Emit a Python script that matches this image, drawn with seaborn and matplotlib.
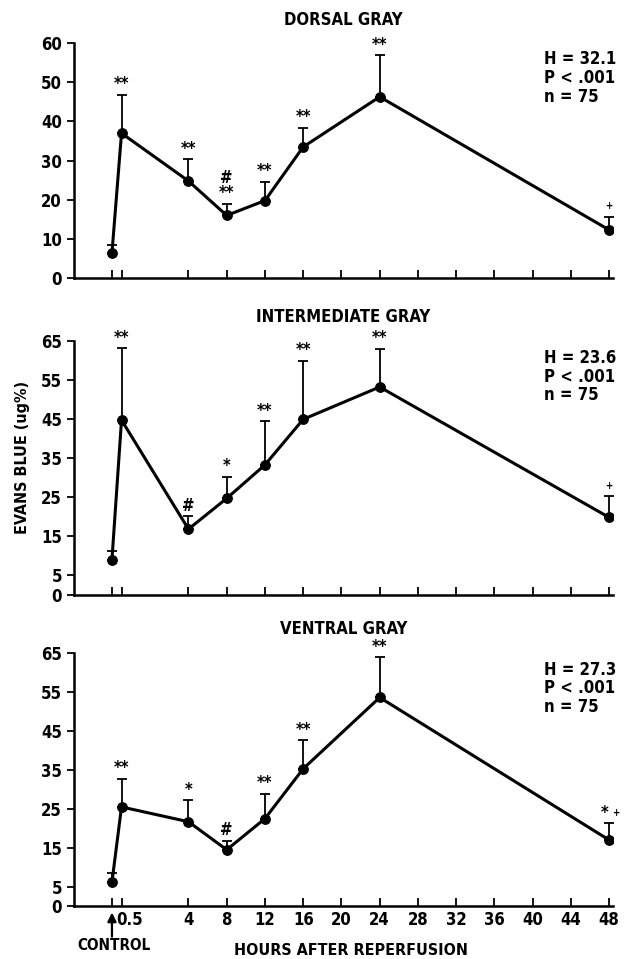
import numpy as np
import pandas as pd
import matplotlib
matplotlib.use('Agg')
import matplotlib.pyplot as plt
import matplotlib.transforms as mtransforms
import seaborn as sns

# time points (CONTROL and 0.5 h sit on a compressed stretch of the axis)
time_labels = ["CONTROL", "0.5", "4", "8", "12", "16", "24", "48"]
time_pos = [-4, -3, 4, 8, 12, 16, 24, 48]

# Evans blue (ug%) means and upper SE
dorsal_mean = [6.4, 37.0, 24.8, 16.0, 19.8, 33.5, 46.3, 12.3]
dorsal_err = [2.0, 9.8, 5.6, 3.0, 4.8, 4.9, 10.6, 3.3]
inter_mean = [9.0, 44.8, 16.8, 24.7, 33.3, 45.0, 53.3, 19.8]
inter_err = [2.3, 18.4, 3.3, 5.6, 11.2, 15.0, 9.8, 5.4]
ventral_mean = [6.2, 25.5, 21.7, 14.5, 22.5, 35.3, 53.6, 17.0]
ventral_err = [2.3, 7.2, 5.6, 2.3, 6.4, 7.4, 10.4, 4.3]

# significance marks above the bars
dorsal_sig = ["", "**", "**", "#\n**", "**", "**", "**", ""]
inter_sig = ["", "**", "#", "*", "**", "**", "**", ""]
ventral_sig = ["", "**", "*", "#", "**", "**", "**", "*"]
plus_flag = [0, 0, 0, 0, 0, 0, 0, 1]

panels = [
    ("DORSAL GRAY", dorsal_mean, dorsal_err, dorsal_sig, "H = 32.1\nP < .001\nn = 75",
     [0, 10, 20, 30, 40, 50, 60], 60),
    ("INTERMEDIATE GRAY", inter_mean, inter_err, inter_sig, "H = 23.6\nP < .001\nn = 75",
     [0, 5, 15, 25, 35, 45, 55, 65], 65),
    ("VENTRAL GRAY", ventral_mean, ventral_err, ventral_sig, "H = 27.3\nP < .001\nn = 75",
     [0, 5, 15, 25, 35, 45, 55, 65], 65),
]

sns.set_style("ticks")
plt.rcParams['font.family'] = ['DejaVu Sans']
plt.rcParams['font.stretch'] = 'condensed'
plt.rcParams['font.weight'] = 'bold'
for k in ['text.color', 'axes.labelcolor', 'xtick.color', 'ytick.color', 'axes.edgecolor']:
    plt.rcParams[k] = 'black'

fig = plt.figure(figsize=(6.3, 9.59), dpi=100)
rects = [
    [0.117, 0.710, 0.856, 0.245],
    [0.117, 0.380, 0.856, 0.264],
    [0.117, 0.055, 0.856, 0.264],
]

xticks = sorted(time_pos + [20, 28, 32, 36, 40, 44])

for i, (title, mean, err, sig, stats, yticks, ytop) in enumerate(panels):
    ax = fig.add_axes(rects[i])
    df = pd.DataFrame({"pos": time_pos, "val": mean})
    ax.errorbar(time_pos, mean, yerr=[np.zeros(len(err)), err], fmt='none',
                ecolor='black', elinewidth=1.3, capsize=3.5, capthick=1.3, zorder=2)
    sns.lineplot(data=df, x="pos", y="val", ax=ax, color='black', linewidth=2.2,
                 marker='o', markersize=7, markeredgecolor='black', zorder=3)
    ax.set_xlim(-8, 48.4)
    ax.set_ylim(0, ytop)
    ax.set_yticks(yticks)
    ax.set_xticks(xticks)
    ax.set_xlabel("")
    ax.set_ylabel("")
    ax.tick_params(axis='x', direction='in', length=6, width=1.3)
    ax.tick_params(axis='y', direction='out', length=5, width=1.3, labelsize=12)
    for s in ['left', 'bottom']:
        ax.spines[s].set_linewidth(1.8)
    sns.despine(ax=ax)

    if i == 2:
        labels = []
        for t in xticks:
            if t == -4:
                labels.append("")
            elif t == -3:
                labels.append("0.5")
            else:
                labels.append(str(t))
        ax.set_xticklabels(labels, fontsize=12)
        # nudge the 0.5 label right to leave room for the control arrow
        lbl = ax.get_xticklabels()[1]
        lbl.set_transform(lbl.get_transform() +
                          mtransforms.ScaledTranslation(6 / 72, 0, fig.dpi_scale_trans))
    else:
        ax.set_xticklabels([])

    for x, y, e, s, p in zip(time_pos, mean, err, sig, plus_flag):
        if s:
            ax.annotate(s, (x, y + e), xytext=(-3 if p else 0, 1), textcoords='offset points',
                        ha='center', va='bottom', fontsize=12, fontweight='bold',
                        linespacing=0.8, annotation_clip=False)
        if p:
            ax.annotate("+", (x, y + e), xytext=(5 if s else 0, 4), textcoords='offset points',
                        ha='center', va='bottom', fontsize=7, fontweight='bold',
                        annotation_clip=False)

    ax.text(0.5, 1.06, title, transform=ax.transAxes, ha='center', va='bottom',
            fontsize=12, fontweight='bold')
    ax.text(0.872, 0.97, stats, transform=ax.transAxes, ha='left', va='top',
            fontsize=12, fontweight='bold', linespacing=1.05)

# control arrow and axis titles
axb = fig.axes[2]
arr = axb.annotate("", xy=(-4, -1.6), xytext=(-4, -7.8), xycoords='data',
                   arrowprops=dict(arrowstyle='-|>', color='black', lw=1.6, mutation_scale=13,
                                   shrinkA=0, shrinkB=0),
                   annotation_clip=False)
arr.set_clip_on(False)
arr.arrow_patch.set_clip_on(False)
axb.text(-3.8, -8.2, "CONTROL", ha='center', va='top', fontsize=11, fontweight='bold')
fig.text(0.557, 0.009, "HOURS AFTER REPERFUSION", ha='center', va='center',
         fontsize=11.5, fontweight='bold')
fig.text(0.035, 0.523, "EVANS BLUE (ug%)", rotation=90, ha='center', va='center',
         fontsize=11.5, fontweight='bold')

fig.savefig("out.png", dpi=100)
